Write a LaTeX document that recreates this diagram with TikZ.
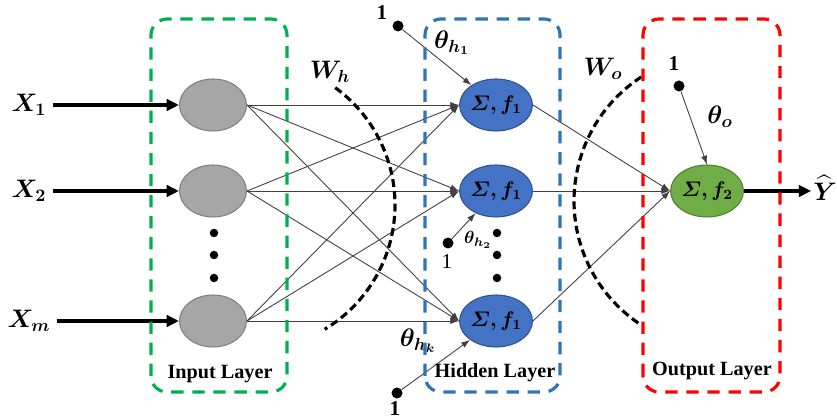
\documentclass[tikz,border=0pt]{standalone}
\usepackage{amsmath,bm}
\usepackage{fontspec}
\setmainfont{Liberation Serif}
\usetikzlibrary{arrows.meta,shapes.geometric}
\begin{document}
\begin{tikzpicture}[x=0.02cm,y=0.02cm,
  neuron/.style={ellipse,draw,line width=0.6pt,minimum width=1.34cm,minimum height=1.04cm,inner sep=0pt,font=\large},
  bias/.style={circle,fill=black,inner sep=0pt,minimum size=0.22cm},
  dotsym/.style={circle,fill=black,inner sep=0pt,minimum size=0.17cm},
  wire/.style={black!75,line width=0.5pt,-{Latex[length=5pt,width=3.5pt]}},
  feed/.style={line width=1.8pt,-{Triangle[length=7pt,width=6.5pt]}},
  layerbox/.style={line width=1.8pt,dash pattern=on 7pt off 5pt,rounded corners=0.32cm},
  weightarc/.style={line width=1.8pt,dash pattern=on 4.5pt off 2.5pt},
  layertext/.style={font=\bfseries\fontsize{11.5}{13}\selectfont}]
\useasboundingbox (0,0) rectangle (837,418);
% input layer
\foreach \i/\y/\lab in {1/313/1,2/227/2,3/97/m}{\node[neuron,draw={rgb,255:red,127;green,127;blue,127},fill={rgb,255:red,166;green,166;blue,166}] (in\i) at (213,\y) {};\node[font=\Large] (x\i) at (29,\y) {$\bm{X_{\lab}}$};\draw[feed] (x\i) -- (in\i);}
% hidden layer
\foreach \j/\y in {1/313,2/227,3/97}{\node[neuron,draw={rgb,255:red,47;green,82;blue,143},fill={rgb,255:red,68;green,114;blue,196}] (h\j) at (496,\y) {$\bm{\varSigma, f_1}$};}
\foreach \y/\n in {185/1,163/2,140/3}{\node[dotsym] (din\n) at (214,\y) {};\node[dotsym] (dh\n) at (497,\y) {};}
% output layer
\node[neuron,draw={rgb,255:red,80;green,126;blue,50},fill={rgb,255:red,112;green,173;blue,71}] (out) at (707,227) {$\bm{\varSigma, f_2}$};
\node[font=\Large,inner sep=1pt] (yhat) at (825,230) {$\widehat{\bm{Y}}$};
\draw[feed] (out.east) -- (out.east -| yhat.west);
% weights
\foreach \i in {1,2,3}{\foreach \j in {1,2,3}{\draw[wire] (in\i.east) -- (h\j.west);}\draw[wire] (h\i.east) -- (out.west);}
% biases
\node[bias] (b1) at (398,392) {};\node[font=\bfseries\large] (one1) at (382,405) {1};\draw[wire] (b1) -- (h1);
\node[font=\Large] (th1) at (452,375) {$\bm{\theta_{h_1}}$};
\node[bias] (b2) at (448,175) {};\node[font=\large] (one2) at (447,156) {1};\draw[wire] (b2) -- (h2);
\node (th2) at (478,178) {$\bm{\theta_{h_2}}$};
\node[bias] (b3) at (397,25) {};\node[font=\bfseries\large] (one3) at (395,9) {1};\draw[wire] (b3) -- (h3);
\node[font=\Large] (th3) at (418,77) {$\bm{\theta_{h_k}}$};
\node[bias] (bo) at (679,332) {};\node[font=\bfseries\large] (oneo) at (674,354) {1};\draw[wire] (bo) -- (out.north);
\node[font=\Large] (tho) at (720,301) {$\bm{\theta_o}$};
% weight arcs
\draw[weightarc] (250,213) ++(54:145) arc[start angle=54,end angle=-59,radius=145];
\node[font=\Large] (wh) at (330,346) {$\bm{W_h}$};
\draw[weightarc] (722,217) ++(123:148) arc[start angle=123,end angle=237,radius=148];
\node[font=\Large] (wo) at (603,349) {$\bm{W_o}$};
% layer boxes
\draw[layerbox,draw={rgb,255:red,0;green,176;blue,80}] (151,26) rectangle (287,399);
\node[layertext] (inlab) at (220,44) {Input Layer};
\draw[layerbox,draw={rgb,255:red,46;green,117;blue,182}] (425,26) rectangle (560,399);
\node[layertext] (hidlab) at (495,45) {Hidden Layer};
\draw[layerbox,draw={rgb,255:red,255;green,0;blue,0}] (643,26) rectangle (780,399);
\node[layertext] (outlab) at (712,47) {Output Layer};
\end{tikzpicture}
\end{document}
